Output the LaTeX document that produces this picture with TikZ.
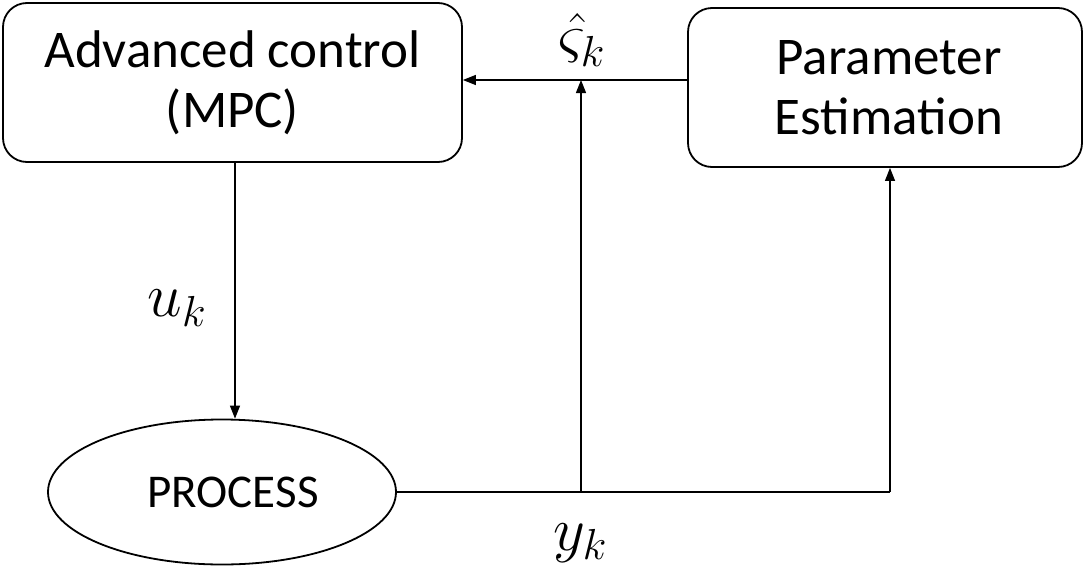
\RequirePackage{fix-cm}
\documentclass[tikz,border=0pt]{standalone}
\usepackage{fontspec}
\setmainfont{Carlito}
\usetikzlibrary{arrows.meta,shapes.geometric}
\begin{document}
\begin{tikzpicture}[x=1pt,y=-1pt,
  blockbox/.style={draw, line width=1.8pt, rounded corners=24pt, align=center,
    inner sep=0pt, font=\fontsize{53}{60}\selectfont},
  procshape/.style={draw, ellipse, line width=1.8pt, inner sep=0pt,
    minimum width=348pt, minimum height=145pt, font=\fontsize{47}{56}\selectfont},
  conn/.style={line width=1.2pt},
  arr/.style={conn, -{Triangle[length=13pt,width=10pt]}},
  sig/.style={inner sep=0pt, font=\fontsize{62}{72}\selectfont}
]
\useasboundingbox (0,0) rectangle (1084,573);

% blocks
\node[blockbox, minimum width=459pt, minimum height=159pt] (mpc) at (232.5,82.5)
  {Advanced control\\(MPC)};
\node[blockbox, minimum width=394pt, minimum height=159pt] (pe) at (885,87.5)
  {\hspace*{8pt}Parameter\\\hspace*{8pt}Estimation};
\node[procshape] (proc) at (222,492) {\hspace*{22pt}PROCESS};

% branch points on the measured output line
\coordinate (j1) at (581,492);
\coordinate (j2) at (890,492);

% estimate fed back to the controller
\draw[arr] (pe.west |- 0,80) -- (mpc.east |- 0,80);
% control input to the process
\draw[arr] ([xshift=2.5pt]mpc.south) -- ([xshift=2.5pt]mpc.south |- proc.north);
% measured output
\draw[conn] (proc.east) -- (j2);
\draw[arr] (j1) -- (j1 |- 0,80);
\draw[arr] (j2) -- (j2 |- pe.south);

% signal labels
\node[sig] (lu) at (177,308) {$u_k$};
\node[sig] (ls) at (582,40) {$\hat{\varsigma}_k$};
\node[sig] (ly) at (580,543) {$y_k$};
\end{tikzpicture}
\end{document}
